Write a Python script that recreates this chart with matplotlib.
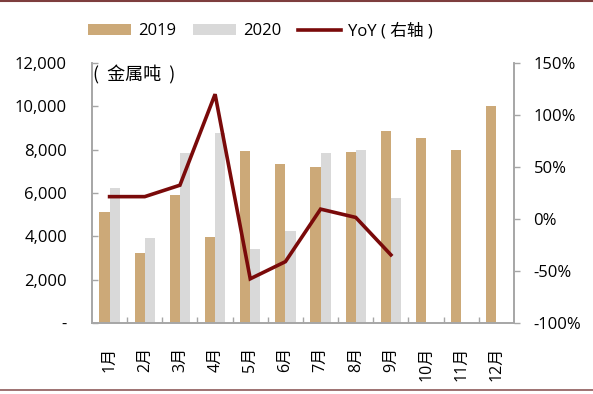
import matplotlib
matplotlib.use("Agg")
import matplotlib.pyplot as plt
import numpy as np
from matplotlib.lines import Line2D
from matplotlib.ticker import FuncFormatter, FixedLocator

plt.rcParams['font.family'] = ['Open Sans', 'Noto Sans CJK SC', 'DejaVu Sans']

months = ['1月', '2月', '3月', '4月', '5月', '6月', '7月', '8月', '9月', '10月', '11月', '12月']
v2019 = [5130, 3250, 5920, 3980, 7940, 7340, 7210, 7910, 8850, 8520, 7980, 10010]
v2020 = [6230, 3920, 7830, 8780, 3410, 4260, 7860, 7980, 5780]
yoy = [21.5, 21.5, 32.5, 120.0, -57.5, -41.0, 9.5, 1.5, -34.5]

c2019 = '#CCA978'
c2020 = '#D9D9D9'
cline = '#7A0A0A'
spine_c = '#A6A6A6'

fig = plt.figure(figsize=(5.93, 3.94), dpi=100)
ax = fig.add_axes([92/593, 1-323/394, (514-92)/593, (323-63)/394])
ax2 = ax.twinx()

x = np.arange(len(months))
w = 0.29
b1 = ax.bar(x - w/2, v2019, width=w, color=c2019, label='2019', zorder=2)
b2 = ax.bar(np.arange(len(v2020)) + w/2, v2020, width=w, color=c2020, label='2020', zorder=2)
ln, = ax2.plot(np.arange(len(yoy)), yoy, color=cline, lw=2.6, label='YoY ( 右轴 )',
               solid_joinstyle='miter')

ax.set_xlim(-0.5, len(months) - 0.5)
ax.set_ylim(0, 12000)
ax2.set_ylim(-100, 150)
ax.set_yticks(np.arange(0, 12001, 2000))
ax2.set_yticks(np.arange(-100, 151, 50))
ax.yaxis.set_major_formatter(FuncFormatter(lambda v, p: '-' if v == 0 else f'{v:,.0f}'))
ax2.yaxis.set_major_formatter(FuncFormatter(lambda v, p: f'{v:.0f}%'))

ax.set_xticks(x)
ax.set_xticklabels(months, rotation=90, fontsize=11.5, va='top', ha='center')
ax.xaxis.set_minor_locator(FixedLocator(np.arange(0.5, len(months) - 0.5, 1)))
ax.tick_params(axis='x', which='major', length=0, pad=17, colors='black')
ax.tick_params(axis='x', which='minor', direction='in', length=4, color=spine_c, width=1)
ax.tick_params(axis='y', direction='in', length=4, color=spine_c, width=1, pad=18, labelsize=12)
ax2.tick_params(axis='y', direction='out', length=4, color=spine_c, width=1, pad=10, labelsize=12)

for a in (ax, ax2):
    a.spines['top'].set_visible(False)
    for s in ('left', 'right', 'bottom'):
        a.spines[s].set_color(spine_c)
        a.spines[s].set_linewidth(1.2)

ax.text(0.003, 0.955, '(  金属吨  )', transform=ax.transAxes, fontsize=13,
        family=['Noto Sans CJK SC'], ha='left', va='center')

fig.legend(handles=[b1, b2, ln], loc='center left', bbox_to_anchor=(88/593, 1-31/394),
           ncol=3, frameon=False, fontsize=12, handlelength=2.6, handleheight=0.6,
           handletextpad=0.4, columnspacing=1.0, borderpad=0, borderaxespad=0)

fig.add_artist(Line2D([0, 1], [1 - 1/394, 1 - 1/394], transform=fig.transFigure,
                      color='#7E3E3E', lw=1.5))
fig.add_artist(Line2D([0, 1], [1 - 390/394, 1 - 390/394], transform=fig.transFigure,
                      color='#8E5A5A', lw=1.2))

fig.savefig('out.png', dpi=100)
